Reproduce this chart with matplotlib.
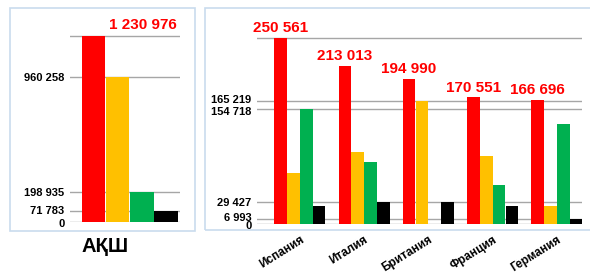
import matplotlib.pyplot as plt
import matplotlib.transforms as mtransforms
from matplotlib.patches import Rectangle

# данные
usa_label = "АҚШ"
usa_values = [1230976, 960258, 198935, 71783]

countries = ["Испания", "Италия", "Британия", "Франция", "Германия"]
red_vals = [250561, 213013, 194990, 170551, 166696]
yellow_vals = [69000, 97500, 165219, 91500, 24500]
green_vals = [154718, 84000, 600, 52000, 134800]
black_vals = [24500, 29427, 29427, 24500, 6993]

usa_ticks = [0, 71783, 198935, 960258, 1230976]
eu_ticks = [0, 6993, 29427, 154718, 165219, 250561]

colors = ["#ff0000", "#ffc000", "#00b050", "#000000"]
grid_col = "#a6a6a6"
frame_col = "#c9dced"

plt.rcParams["font.family"] = ["Liberation Sans", "DejaVu Sans"]


def fmt(v):
    return f"{v:,}".replace(",", " ")


W, H = 590, 274
fig = plt.figure(figsize=(W / 100, H / 100), dpi=100)

# рамки панелей
fig.patches.append(Rectangle((10 / W, 1 - 231 / H), 185 / W, 223 / H, transform=fig.transFigure,
                             fill=False, edgecolor=frame_col, linewidth=1.2))
fig.patches.append(Rectangle((205 / W, 1 - 230 / H), 400 / W, 222 / H, transform=fig.transFigure,
                             fill=False, edgecolor=frame_col, linewidth=1.2))


def style(ax, ticks, shifts):
    for s in ax.spines.values():
        s.set_visible(False)
    ax.set_yticks(ticks)
    ax.set_yticklabels([fmt(t) if t != ticks[-1] else "" for t in ticks],
                       fontsize=8, fontweight="bold")
    ax.tick_params(axis="both", length=0, pad=4)
    ax.yaxis.grid(True, color=grid_col, linewidth=1)
    ax.set_axisbelow(True)
    ax.patch.set_alpha(0)
    # немного раздвигаем близкие подписи
    for lab, dy in zip(ax.get_yticklabels(), shifts):
        if dy:
            lab.set_transform(lab.get_transform() +
                              mtransforms.ScaledTranslation(0, dy / 72, fig.dpi_scale_trans))


# левая панель: США
ax1 = fig.add_axes([70 / W, 1 - 222 / H, 110 / W, 212 / H])
ax1.bar(range(4), usa_values, width=0.98, color=colors)
ax1.set_ylim(0, usa_ticks[-1] * 212 / 186)
ax1.set_xlim(-0.97, 3.58)
style(ax1, usa_ticks, [-1, 0.5, 0, 0, 0])
ax1.set_xticks([])
ax1.annotate(fmt(usa_values[0]), xy=(3.45, usa_values[0]), xytext=(0, 3), textcoords="offset points",
             ha="right", va="bottom", color="red", fontsize=11, fontweight="bold")
fig.text(105 / W, 1 - 246 / H, usa_label, ha="center", va="center", fontsize=14.5, fontweight="bold")

# правая панель: Европа
ax2 = fig.add_axes([257 / W, 1 - 224 / H, 325 / W, 214 / H])
w = 0.2
x = range(len(countries))
for j, vals in enumerate([red_vals, yellow_vals, green_vals, black_vals]):
    ax2.bar([i + (j - 1.5) * w for i in x], vals, width=w * 0.98, color=colors[j])
ax2.set_ylim(0, eu_ticks[-1] * 214 / 186)
ax2.set_xlim(-0.666, 4.39)
style(ax2, eu_ticks, [-1, 1.5, 0, -1.5, 2, 0])
ax2.set_xticks(list(x))
ax2.set_xticklabels(countries, rotation=32, ha="right", rotation_mode="anchor",
                    fontsize=8.5, fontweight="bold")
ax2.tick_params(axis="x", pad=7)
for i, v in enumerate(red_vals):
    ax2.annotate(fmt(v), xy=(i - 1.5 * w, v), xytext=(0, 2), textcoords="offset points",
                 ha="center", va="bottom", color="red", fontsize=11, fontweight="bold")

fig.savefig("out.png", dpi=100)
